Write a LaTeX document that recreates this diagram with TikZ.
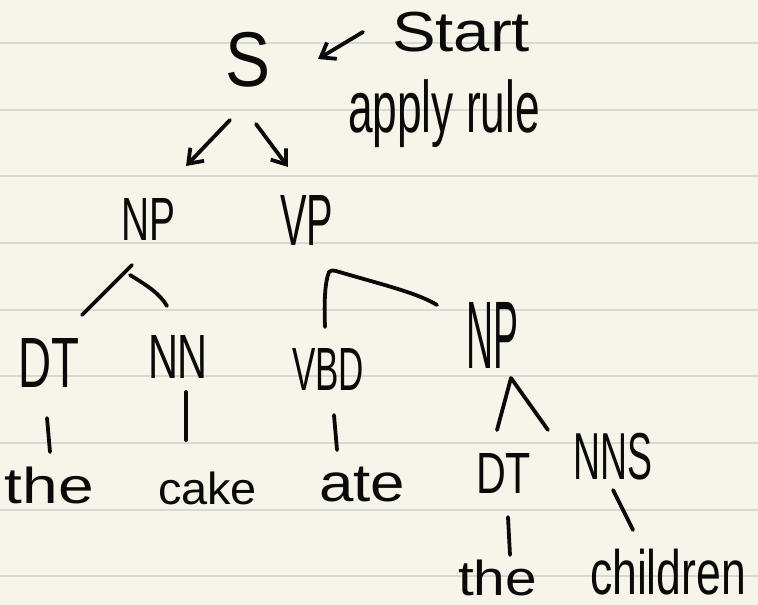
\documentclass[tikz,border=0pt]{standalone}
\usepackage{fontspec}
\setmainfont{Liberation Sans}
\usetikzlibrary{arrows.meta}
\definecolor{paper}{HTML}{F7F5E9}
\definecolor{ruling}{HTML}{D8D8D4}
\definecolor{ink}{HTML}{0A0A0A}
\newcommand{\hw}[3]{\resizebox*{#1pt}{#2pt}{#3}}
\begin{document}
\begin{tikzpicture}[x=1pt,y=-1pt,
  word/.style={anchor=north west, inner sep=0pt, outer sep=0pt, text=ink},
  stroke/.style={draw=ink, line width=3.8pt, line cap=round, line join=round},
  arr/.style={stroke, -{Straight Barb[length=13pt,width=19pt]}},
  ruleline/.style={draw=ruling, line width=2pt}]
\fill[paper] (0,0) rectangle (758,605);
\useasboundingbox (0,0) rectangle (758,605);
\foreach \k in {0,...,8}{
  \pgfmathsetmacro{\yy}{43+66.67*\k}
  \draw[ruleline] (0,\yy) -- (758,\yy);
}
% words
\node[word] (start) at (392,12) {\hw{138}{40}{Start}};
\node[word] (S) at (225,32) {\hw{45}{55}{S}};
\node[word] (applyrule) at (348,80) {\hw{192}{68}{apply rule}};
\node[word] (np1) at (121,198) {\hw{54}{42}{NP}};
\node[word] (vp) at (280,195) {\hw{53}{50}{VP}};
\node[word] (dt1) at (18,338) {\hw{61}{49}{DT}};
\node[word] (nn) at (148,335) {\hw{60}{43}{NN}};
\node[word] (vbd) at (292,348) {\hw{72}{42}{VBD}};
\node[word] (np2) at (466,302) {\hw{52}{66}{NP}};
\node[word] (the1) at (5,467) {\hw{89}{37}{the}};
\node[word] (cake) at (158,472) {\hw{99}{33}{cake}};
\node[word] (ate) at (319,467) {\hw{86}{35}{ate}};
\node[word] (dt2) at (476,453) {\hw{55}{40}{DT}};
\node[word] (nns) at (573,433) {\hw{79}{47}{NNS}};
\node[word] (the2) at (458,560) {\hw{79}{36}{the}};
\node[word] (children) at (590,549) {\hw{156}{46}{children}};
% stroke end points
\coordinate (startA) at (363,32);  \coordinate (startB) at (318,59);
\coordinate (sLa) at (230,120);    \coordinate (sLb) at (186,166);
\coordinate (sRa) at (256,124);    \coordinate (sRb) at (288,167);
\coordinate (np1L) at (132,265);   \coordinate (dt1T) at (82,315);
\coordinate (np1R) at (130,275);   \coordinate (nnT) at (167,306);
\coordinate (vbdT) at (325,327);   \coordinate (vpC) at (329,272);
\coordinate (np2T) at (437,305);
\coordinate (np2A) at (511,378);   \coordinate (dt2T) at (497,430);
\coordinate (nnsT) at (548,430);
\coordinate (dt1B) at (47,418);    \coordinate (the1T) at (50,452);
\coordinate (nnB) at (186,392);    \coordinate (cakeT) at (186,440);
\coordinate (vbdB) at (334,415);   \coordinate (ateT) at (337,450);
\coordinate (dt2B) at (508,517);   \coordinate (the2T) at (510,555);
\coordinate (nnsB) at (613,490);   \coordinate (childT) at (633,530);
% arrows
\draw[arr] (startA) -- (startB);
\draw[arr] (sLa) -- (sLb);
\draw[arr] (sRa) -- (sRb);
% branches
\draw[stroke] (np1L) -- (dt1T);
\draw[stroke] (np1R) .. controls (148,286) and (160,294) .. (nnT);
\draw[stroke] (vbdT) .. controls (324,300) and (325,282) .. (vpC)
  .. controls (331,270) and (333,270) .. (336,271)
  .. controls (380,284) and (418,293) .. (np2T);
\draw[stroke] (dt2T) -- (np2A) -- (nnsT);
\draw[stroke] (dt1B) -- (the1T);
\draw[stroke] (nnB) -- (cakeT);
\draw[stroke] (vbdB) -- (ateT);
\draw[stroke] (dt2B) -- (the2T);
\draw[stroke] (nnsB) -- (childT);
\end{tikzpicture}
\end{document}
